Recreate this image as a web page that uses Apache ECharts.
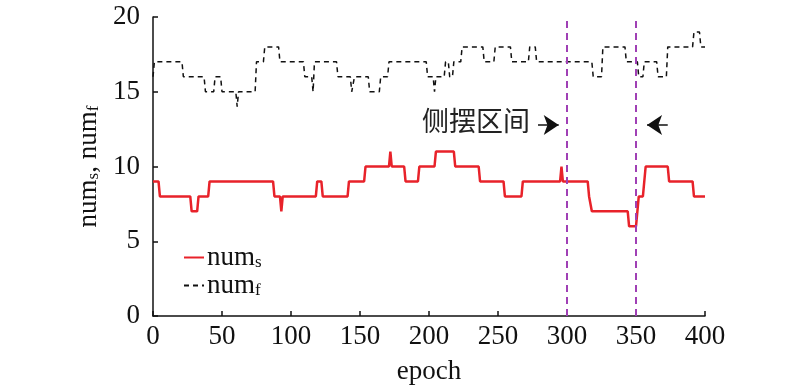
<!DOCTYPE html>
<html>
<head>
<meta charset="utf-8">
<script src="https://cdn.jsdelivr.net/npm/echarts@6/dist/echarts.min.js"></script>
<style>
html,body{margin:0;padding:0;background:#fff;}
#main{width:800px;height:387px;}
</style>
</head>
<body>
<div id="main"></div>
<script>
// x tick settings
var xTicks = [0, 50, 100, 150, 200, 250, 300, 350, 400];
var yTicks = [0, 5, 10, 15, 20];

// num_s: [epoch, value] breakpoints (step-like)
var numS = [[0,9],[4,9],[5,8],[27,8],[28,7],[32,7],[33,8],[40,8],[41,9],[87,9],[88,8],[92,8],[93,7],[94,8],[118,8],[119,9],[122,9],[123,8],[141,8],[142,9],[153,9],[154,10],[171,10],[172,11],[173,10],[182,10],[183,9],[192,9],[193,10],[204,10],[205,11],[218,11],[219,10],[236,10],[237,9],[254,9],[255,8],[267,8],[268,9],[295,9],[296,10],[297,9],[315,9],[316,8],[317,8],[318,7],[344,7],[345,6],[350,6],[352,8],[355,8],[357,10],[373,10],[374,9],[391,9],[392,8],[400,8]];

// num_f: [epoch, value] breakpoints
var numF = [[0,16],[1,17],[21,17],[22,16],[37,16],[38,15],[44,15],[45,16],[49,16],[50,15],[60,15],[61,14],[62,15],[74,15],[75,17],[80,17],[81,18],[91,18],[92,17],[109,17],[110,16],[115,16],[116,15],[117,17],[133,17],[134,16],[143,16],[144,15],[146,16],[156,16],[157,15],[164,15],[165,16],[170,16],[171,17],[198,17],[199,16],[203,16],[204,15],[205,16],[211,16],[212,17],[214,17],[215,16],[217,16],[218,17],[223,17],[224,18],[239,18],[240,17],[247,17],[248,18],[259,18],[260,17],[272,17],[273,18],[277,18],[278,17],[318,17],[319,16],[325,16],[326,18],[342,18],[343,17],[351,17],[352,16],[355,16],[356,17],[365,17],[366,16],[372,16],[373,18],[391,18],[392,19],[396,19],[397,18],[400,18]];

// swing interval boundaries
var swingBounds = [300, 350];
var annotationText = '侧摆区间';
var arrowY = 12.78;
var arrowRight = [279, 294];
var arrowLeft = [373, 358];

var serif = 'Liberation Serif, Times New Roman, serif';
var subRich = {
  a: {fontFamily: serif, fontSize: 27, color: '#111', lineHeight: 27, verticalAlign: 'top'},
  s: {fontFamily: serif, fontSize: 17, color: '#111', lineHeight: 17, verticalAlign: 'top', padding: [10, 0, 0, 0]}
};

var chart = echarts.init(document.getElementById('main'));
chart.setOption({
  animation: false,
  backgroundColor: '#fff',
  grid: {left: 153, right: 95, top: 17, bottom: 71, containLabel: false, outerBoundsMode: 'none'},
  xAxis: {
    type: 'value', min: xTicks[0], max: xTicks[xTicks.length - 1], interval: 50,
    name: 'epoch', nameLocation: 'middle', nameGap: 42,
    nameTextStyle: {fontFamily: serif, fontSize: 27, color: '#111'},
    axisLine: {show: true, lineStyle: {color: '#111', width: 1.5}},
    axisTick: {show: true, inside: true, length: 5, lineStyle: {color: '#111', width: 1.5}},
    axisLabel: {fontFamily: serif, fontSize: 27, color: '#111', margin: 7},
    splitLine: {show: false}
  },
  yAxis: {
    type: 'value', min: yTicks[0], max: yTicks[yTicks.length - 1], interval: 5,
    name: '{a|num}{s|s}{a|, num}{s|f}', nameLocation: 'middle', nameGap: 39, nameRotate: 90,
    nameTextStyle: {rich: subRich},
    axisLine: {show: true, lineStyle: {color: '#111', width: 1.5}},
    axisTick: {show: true, inside: true, length: 5, lineStyle: {color: '#111', width: 1.5}},
    axisLabel: {fontFamily: serif, fontSize: 27, color: '#111', margin: 13},
    splitLine: {show: false}
  },
  legend: {
    orient: 'vertical', left: 178, top: 239, itemWidth: 20, itemHeight: 14, itemGap: 1,
    data: ['num_s', 'num_f'],
    itemStyle: {opacity: 0},
    formatter: function (n) { return n === 'num_s' ? '{a|num}{s|s}' : '{a|num}{s|f}'; },
    textStyle: {rich: subRich, padding: [0, 0, 0, -2]}
  },
  graphic: [{
    type: 'text', left: 422, top: 107,
    style: {text: annotationText, font: '27px "Noto Sans CJK SC"', fill: '#222'}
  }],
  series: [
    {
      name: 'num_s', type: 'line', data: numS, symbol: 'none', showSymbol: false,
      lineStyle: {color: '#E8222A', width: 2.5}, itemStyle: {color: '#E8222A'},
      z: 3,
      markLine: {
        silent: true, symbol: 'none', animation: false,
        label: {show: false},
        lineStyle: {color: '#A040B5', width: 2, type: [7, 5]},
        data: swingBounds.map(function (v) { return {xAxis: v}; })
      }
    },
    {
      name: 'num_f', type: 'line', data: numF, symbol: 'none', showSymbol: false,
      lineStyle: {color: '#111', width: 1.5, type: [5, 4]}, itemStyle: {color: '#111'},
      z: 2,
      markLine: {
        silent: true, animation: false,
        label: {show: false},
        lineStyle: {color: '#111', width: 1.5, type: 'solid'},
        symbol: ['none', 'arrow'], symbolSize: 15,
        data: [
          [{coord: [arrowRight[0], arrowY]}, {coord: [arrowRight[1], arrowY]}],
          [{coord: [arrowLeft[0], arrowY]}, {coord: [arrowLeft[1], arrowY]}]
        ]
      }
    }
  ]
});
</script>
</body>
</html>
